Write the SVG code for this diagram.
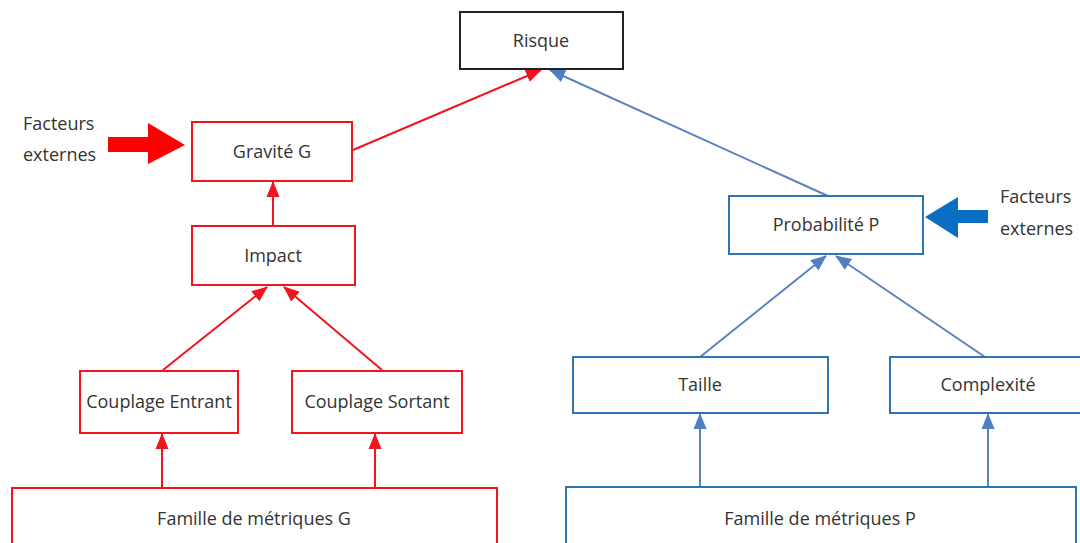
<svg xmlns="http://www.w3.org/2000/svg" width="1080" height="543" viewBox="0 0 1080 543">
<style>
  text { font-family: "Open Sans", "Noto Sans", "Liberation Sans", sans-serif; font-size: 18px; fill: #333; text-anchor: middle; }
  .lab { text-anchor: start; }
  .rb { fill: #fff; stroke: #f0141e; stroke-width: 2; }
  .bb { fill: #fff; stroke: #2e75b6; stroke-width: 2; }
  .kb { fill: #fff; stroke: #222; stroke-width: 2; }
  .rl { stroke: #f0141e; stroke-width: 2; fill: none; marker-end: url(#ra); }
  .bl { stroke: #5b82c0; stroke-width: 2; fill: none; marker-end: url(#ba); }
</style>
<defs>
  <marker id="ra" markerUnits="userSpaceOnUse" markerWidth="16" markerHeight="16" viewBox="0 0 16 16" refX="15" refY="8" orient="auto">
    <path d="M0,1.5 L16,8 L0,14.5 Z" fill="#f0141e"/>
  </marker>
  <marker id="ba" markerUnits="userSpaceOnUse" markerWidth="16" markerHeight="16" viewBox="0 0 16 16" refX="15" refY="8" orient="auto">
    <path d="M0,1.5 L16,8 L0,14.5 Z" fill="#4f7fc0"/>
  </marker>
</defs>
<rect width="1080" height="543" fill="#fff"/>

<g id="connectors">
  <line class="rl" x1="353" y1="150" x2="541" y2="70"/>
  <line class="bl" x1="828" y1="196" x2="550" y2="70"/>
  <line class="rl" x1="273" y1="226" x2="273" y2="182"/>
  <line class="rl" x1="163" y1="370" x2="267" y2="287"/>
  <line class="rl" x1="382" y1="370" x2="284" y2="287"/>
  <line class="rl" x1="162" y1="487" x2="162" y2="434"/>
  <line class="rl" x1="375" y1="487" x2="375" y2="434"/>
  <line class="bl" x1="700" y1="357" x2="826" y2="256"/>
  <line class="bl" x1="985" y1="357" x2="836" y2="256"/>
  <line class="bl" x1="700" y1="487" x2="700" y2="414"/>
  <line class="bl" x1="988" y1="487" x2="988" y2="414"/>
  <path d="M108,137 L148,137 L148,123 L185,145 L148,164 L148,152 L108,152 Z" fill="#f00"/>
  <path d="M988,210 L958,210 L958,197 L925,217 L958,238 L958,223 L988,223 Z" fill="#0a6fc2"/>
</g>

<g id="risque">
  <rect class="kb" x="460" y="12" width="163" height="57"/>
  <text x="541" y="47">Risque</text>
</g>
<g id="facteurs-g">
  <text class="lab" x="23" y="130">Facteurs</text>
  <text class="lab" x="23" y="161">externes</text>
</g>
<g id="gravite">
  <rect class="rb" x="192" y="122" width="160" height="59"/>
  <text x="272" y="158">Gravité G</text>
</g>
<g id="impact">
  <rect class="rb" x="192" y="226" width="163" height="59"/>
  <text x="273" y="262">Impact</text>
</g>
<g id="couplage-entrant">
  <rect class="rb" x="80" y="371" width="158" height="62"/>
  <text x="159" y="408">Couplage Entrant</text>
</g>
<g id="couplage-sortant">
  <rect class="rb" x="292" y="371" width="170" height="62"/>
  <text x="377" y="408">Couplage Sortant</text>
</g>
<g id="famille-g">
  <rect class="rb" x="12" y="488" width="485" height="60"/>
  <text x="254" y="525">Famille de métriques G</text>
</g>
<g id="probabilite">
  <rect class="bb" x="729" y="196" width="194" height="58"/>
  <text x="826" y="231">Probabilité P</text>
</g>
<g id="facteurs-p">
  <text class="lab" x="1000" y="203">Facteurs</text>
  <text class="lab" x="1000" y="235">externes</text>
</g>
<g id="taille">
  <rect class="bb" x="573" y="357" width="255" height="56"/>
  <text x="700" y="391">Taille</text>
</g>
<g id="complexite">
  <rect class="bb" x="890" y="357" width="195" height="56"/>
  <text x="988" y="391">Complexité</text>
</g>
<g id="famille-p">
  <rect class="bb" x="566" y="487" width="510" height="60"/>
  <text x="820" y="525">Famille de métriques P</text>
</g>
</svg>
